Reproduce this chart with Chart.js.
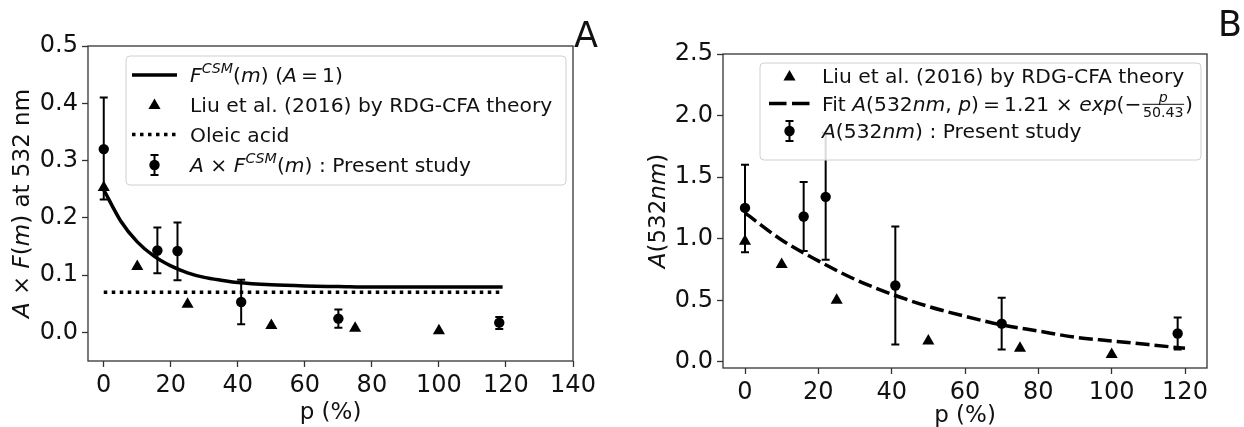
<!DOCTYPE html>
<html>
<head>
<meta charset="utf-8">
<script src="https://cdn.jsdelivr.net/npm/chart.js@4.4.1/dist/chart.umd.min.js"></script>
<style>
  html,body{margin:0;padding:0;background:#fff;}
  #wrap{position:relative;width:1244px;height:427px;overflow:hidden;background:#fff;}
  canvas{position:absolute;top:0;}
</style>
</head>
<body>
<div id="wrap">
  <canvas id="chartA" width="610" height="427" style="left:0"></canvas>
  <canvas id="chartB" width="624" height="427" style="left:620px"></canvas>
</div>
<script>
// ---- data ----
const studyP     = [0, 16, 22, 41, 70, 118];
const studyF     = [0.320, 0.143, 0.142, 0.053, 0.024, 0.017];
const studyFLow  = [0.232, 0.103, 0.091, 0.014, 0.008, 0.006];
const studyFHigh = [0.410, 0.183, 0.192, 0.092, 0.040, 0.027];
const studyA     = [1.25, 1.18, 1.34, 0.62, 0.31, 0.23];
const studyALow  = [0.89, 0.90, 0.83, 0.14, 0.10, 0.10];
const studyAHigh = [1.60, 1.46, 1.86, 1.10, 0.52, 0.36];

const liuP = [0, 10, 25, 50, 75, 100];
const liuF = [0.253, 0.115, 0.049, 0.012, 0.007, 0.003];
const liuA = [0.98, 0.79, 0.50, 0.17, 0.11, 0.06];

const csmP = [0, 5, 10, 15, 20, 25, 30, 35, 40, 50, 60, 70, 80, 100, 119];
const csmF = [0.249, 0.195, 0.158, 0.133, 0.116, 0.104, 0.096, 0.091, 0.087, 0.083, 0.081, 0.080, 0.079, 0.079, 0.079];

const oleicP = [0, 119];
const oleicF = [0.07, 0.07];

const fitP = [0, 10, 20, 30, 40, 50, 60, 70, 80, 90, 100, 110, 120];
const fitA = [1.21, 0.99, 0.82, 0.67, 0.55, 0.45, 0.37, 0.30, 0.25, 0.20, 0.17, 0.14, 0.11];

const xTicksA = [0, 20, 40, 60, 80, 100, 120, 140];
const yTicksA = [0.0, 0.1, 0.2, 0.3, 0.4, 0.5];
const xTicksB = [0, 20, 40, 60, 80, 100, 120];
const yTicksB = [0.0, 0.5, 1.0, 1.5, 2.0, 2.5];

// ---- helpers ----
const FAM = '"DejaVu Sans", sans-serif';
const INK = '#111';
const TICK_SZ = 24, TITLE_SZ = 23, LEG_SZ = 20.3;
const TRI_R = 7, DOT_R = 5.2;
const pts = (xs, ys) => xs.map((x,i)=>({x, y:ys[i]}));
const fnt = (sz, it) => (it?'italic ':'') + sz + 'px ' + FAM;

function segW(ctx, s, size){
  if(s.frac){
    ctx.font = fnt(size*0.7, true);  const a = ctx.measureText(s.frac[0]).width;
    ctx.font = fnt(size*0.7, false); const b = ctx.measureText(s.frac[1]).width;
    return Math.max(a,b) + size*0.15;
  }
  ctx.font = fnt(s.sup ? size*0.7 : size, s.it);
  return ctx.measureText(s.t).width;
}
function richW(ctx, segs, size){ return segs.reduce((w,s)=>w+segW(ctx,s,size),0); }
function drawRich(ctx, segs, x, y, size){
  ctx.textBaseline = 'alphabetic'; ctx.textAlign = 'left'; ctx.fillStyle = INK;
  segs.forEach(s=>{
    const w = segW(ctx, s, size);
    if(s.frac){
      const fs = size*0.7, cx = x + w/2;
      ctx.textAlign = 'center';
      ctx.font = fnt(fs, true);  ctx.fillText(s.frac[0], cx, y - size*0.43);
      ctx.font = fnt(fs, false); ctx.fillText(s.frac[1], cx, y + size*0.33);
      ctx.fillRect(x + 1, y - size*0.33, w - 2, 1);
      ctx.textAlign = 'left';
    } else {
      ctx.font = fnt(s.sup ? size*0.7 : size, s.it);
      ctx.fillText(s.t, x, s.sup ? y - size*0.42 : y);
    }
    x += w;
  });
}

function triangle(ctx, x, y, r){
  ctx.beginPath();
  ctx.moveTo(x, y - r);
  ctx.lineTo(x + r*0.866, y + r*0.5);
  ctx.lineTo(x - r*0.866, y + r*0.5);
  ctx.closePath(); ctx.fill();
}
function errbar(ctx, x, yTop, yBot, cap){
  ctx.beginPath();
  ctx.moveTo(x, yTop); ctx.lineTo(x, yBot);
  ctx.moveTo(x - cap, yTop); ctx.lineTo(x + cap, yTop);
  ctx.moveTo(x - cap, yBot); ctx.lineTo(x + cap, yBot);
  ctx.stroke();
}

// legend samples
function sample(ctx, kind, x0, x1, y){
  ctx.save();
  ctx.fillStyle = '#000'; ctx.strokeStyle = '#000';
  const cx = (x0 + x1)/2;
  if(kind === 'line' || kind === 'dot' || kind === 'dash'){
    ctx.lineWidth = 3.5;
    if(kind === 'dot') ctx.setLineDash([3.5, 4.5]);
    if(kind === 'dash') ctx.setLineDash([17.5, 5.5]);
    ctx.beginPath(); ctx.moveTo(x0, y); ctx.lineTo(x1, y); ctx.stroke();
  } else if(kind === 'tri'){
    triangle(ctx, cx, y + 1, TRI_R);
  } else if(kind === 'err'){
    ctx.lineWidth = 2;
    errbar(ctx, cx, y - 10, y + 10, 4);
    ctx.beginPath(); ctx.arc(cx, y, DOT_R, 0, Math.PI*2); ctx.fill();
  }
  ctx.restore();
}

// one plugin per chart: error bars, frame, titles, legend, panel letter
function decor(cfg){
  return {
    id: 'decor',
    beforeDatasetDraw(chart, args){
      const ds = chart.data.datasets[args.index];
      if(!ds.errLow) return;
      const {ctx, scales:{x, y}} = chart;
      ctx.save();
      ctx.strokeStyle = '#000'; ctx.lineWidth = 2;
      ds.data.forEach((p,i)=>{
        errbar(ctx, x.getPixelForValue(p.x), y.getPixelForValue(ds.errHigh[i]), y.getPixelForValue(ds.errLow[i]), 4);
      });
      ctx.restore();
    },
    afterDatasetsDraw(chart){
      const {ctx, chartArea:a} = chart;
      ctx.save();
      // frame
      ctx.strokeStyle = '#333'; ctx.lineWidth = 1.3;
      ctx.strokeRect(a.left, a.top, a.right - a.left, a.bottom - a.top);
      // x title
      ctx.fillStyle = INK; ctx.font = fnt(TITLE_SZ, false);
      ctx.textAlign = 'center'; ctx.textBaseline = 'alphabetic';
      ctx.fillText('p (%)', (a.left + a.right)/2, cfg.xTitleY);
      // y title (rotated)
      ctx.save();
      ctx.translate(cfg.yTitleX, (a.top + a.bottom)/2);
      ctx.rotate(-Math.PI/2);
      drawRich(ctx, cfg.yTitle, -richW(ctx, cfg.yTitle, TITLE_SZ)/2, 0, TITLE_SZ);
      ctx.restore();
      // legend
      const L = cfg.legend;
      ctx.beginPath();
      ctx.roundRect(L.x0, L.y0, L.x1 - L.x0, L.y1 - L.y0, 4);
      ctx.fillStyle = 'rgba(255,255,255,0.85)'; ctx.fill();
      ctx.strokeStyle = '#d0d0d0'; ctx.lineWidth = 1; ctx.stroke();
      L.items.forEach((it, i)=>{
        const y = L.rows[i];
        sample(ctx, it.kind, L.s0, L.s1, y);
        drawRich(ctx, it.text, L.tx, y + 7, LEG_SZ);
      });
      // panel letter
      ctx.fillStyle = INK; ctx.font = fnt(35, false);
      ctx.textAlign = 'left'; ctx.textBaseline = 'alphabetic';
      ctx.fillText(cfg.letter[0], cfg.letter[1], cfg.letter[2]);
      ctx.restore();
    }
  };
}

function axis(min, max, ticks, fitSize, fmt){
  return {
    type: 'linear', min, max,
    afterBuildTicks: s => { s.ticks = ticks.map(v=>({value:v})); },
    afterFit: s => { if(s.isHorizontal()) s.height = fitSize; else s.width = fitSize; },
    grid: { display:true, drawOnChartArea:false, drawTicks:true, tickLength:6, tickColor:'#333', tickWidth:1.3 },
    border: { display:false },
    ticks: { color: INK, font:{family:FAM, size:TICK_SZ}, padding:4, maxRotation:0, autoSkip:false, callback: fmt }
  };
}

const baseOpts = (pad, xs, ys) => ({
  responsive:false, animation:false, devicePixelRatio:1,
  layout:{ padding: pad },
  plugins:{ legend:{display:false}, tooltip:{enabled:false} },
  scales:{ x: xs, y: ys }
});

const ptDs = (data, style, r, extra) => Object.assign({
  data, showLine:false, pointStyle:style, pointRadius:r, pointHoverRadius:r,
  backgroundColor:'#000', borderColor:'#000', pointBorderWidth:0
}, extra||{});
const lineDs = (data, dash) => ({
  data, showLine:true, pointRadius:0, borderColor:'#000', borderWidth:3.5,
  borderDash: dash, cubicInterpolationMode:'monotone', fill:false
});

// ---- panel A ----
new Chart(document.getElementById('chartA'), {
  type:'scatter',
  data:{ datasets:[
    ptDs(pts(studyP, studyF), 'circle', DOT_R, {errLow:studyFLow, errHigh:studyFHigh}),
    lineDs(pts(oleicP, oleicF), [3.5, 4.5]),
    ptDs(pts(liuP, liuF), 'triangle', TRI_R),
    lineDs(pts(csmP, csmF), [])
  ]},
  options: baseOpts({left:0, top:46, right:37, bottom:0},
    axis(-4.7, 140, xTicksA, 66, v=>String(v)),
    axis(-0.05, 0.5, yTicksA, 88, v=>v.toFixed(1))),
  plugins:[decor({
    xTitleY: 418.5, yTitleX: 29,
    yTitle:[{t:'A',it:true},{t:' \u00d7 '},{t:'F',it:true},{t:'('},{t:'m',it:true},{t:') at 532 nm'}],
    letter:['A', 574, 47],
    legend:{ x0:126, y0:56, x1:566, y1:185, s0:132, s1:177, tx:190, rows:[75, 104.5, 134.5, 165],
      items:[
        {kind:'line', text:[{t:'F',it:true},{t:'CSM',it:true,sup:true},{t:'('},{t:'m',it:true},{t:') ('},{t:'A',it:true},{t:'\u2009=\u20091)'}]},
        {kind:'tri',  text:[{t:'Liu et al. (2016) by RDG-CFA theory'}]},
        {kind:'dot',  text:[{t:'Oleic acid'}]},
        {kind:'err',  text:[{t:'A',it:true},{t:' \u00d7 '},{t:'F',it:true},{t:'CSM',it:true,sup:true},{t:'('},{t:'m',it:true},{t:') : Present study'}]}
      ]}
  })]
});

// ---- panel B ----
new Chart(document.getElementById('chartB'), {
  type:'scatter',
  data:{ datasets:[
    ptDs(pts(studyP, studyA), 'circle', DOT_R, {errLow:studyALow, errHigh:studyAHigh}),
    lineDs(pts(fitP, fitA), [14, 5]),
    ptDs(pts(liuP, liuA), 'triangle', TRI_R)
  ]},
  options: baseOpts({left:0, top:54, right:37, bottom:0},
    axis(-6, 126, xTicksB, 59, v=>String(v)),
    axis(-0.05, 2.5, yTicksB, 103, v=>v.toFixed(1))),
  plugins:[decor({
    xTitleY: 422, yTitleX: 45,
    yTitle:[{t:'A',it:true},{t:'(532'},{t:'nm',it:true},{t:')'}],
    letter:['B', 598, 36],
    legend:{ x0:140, y0:63, x1:581, y1:160, s0:149, s1:190, tx:202, rows:[76, 103.5, 131],
      items:[
        {kind:'tri',  text:[{t:'Liu et al. (2016) by RDG-CFA theory'}]},
        {kind:'dash', text:[{t:'Fit '},{t:'A',it:true},{t:'(532'},{t:'nm',it:true},{t:', '},{t:'p',it:true},{t:')\u2009=\u20091.21 \u00d7 '},{t:'exp',it:true},{t:'(\u2212'},{frac:['p','50.43']},{t:')'}]},
        {kind:'err',  text:[{t:'A',it:true},{t:'(532'},{t:'nm',it:true},{t:') : Present study'}]}
      ]}
  })]
});
</script>
</body>
</html>
